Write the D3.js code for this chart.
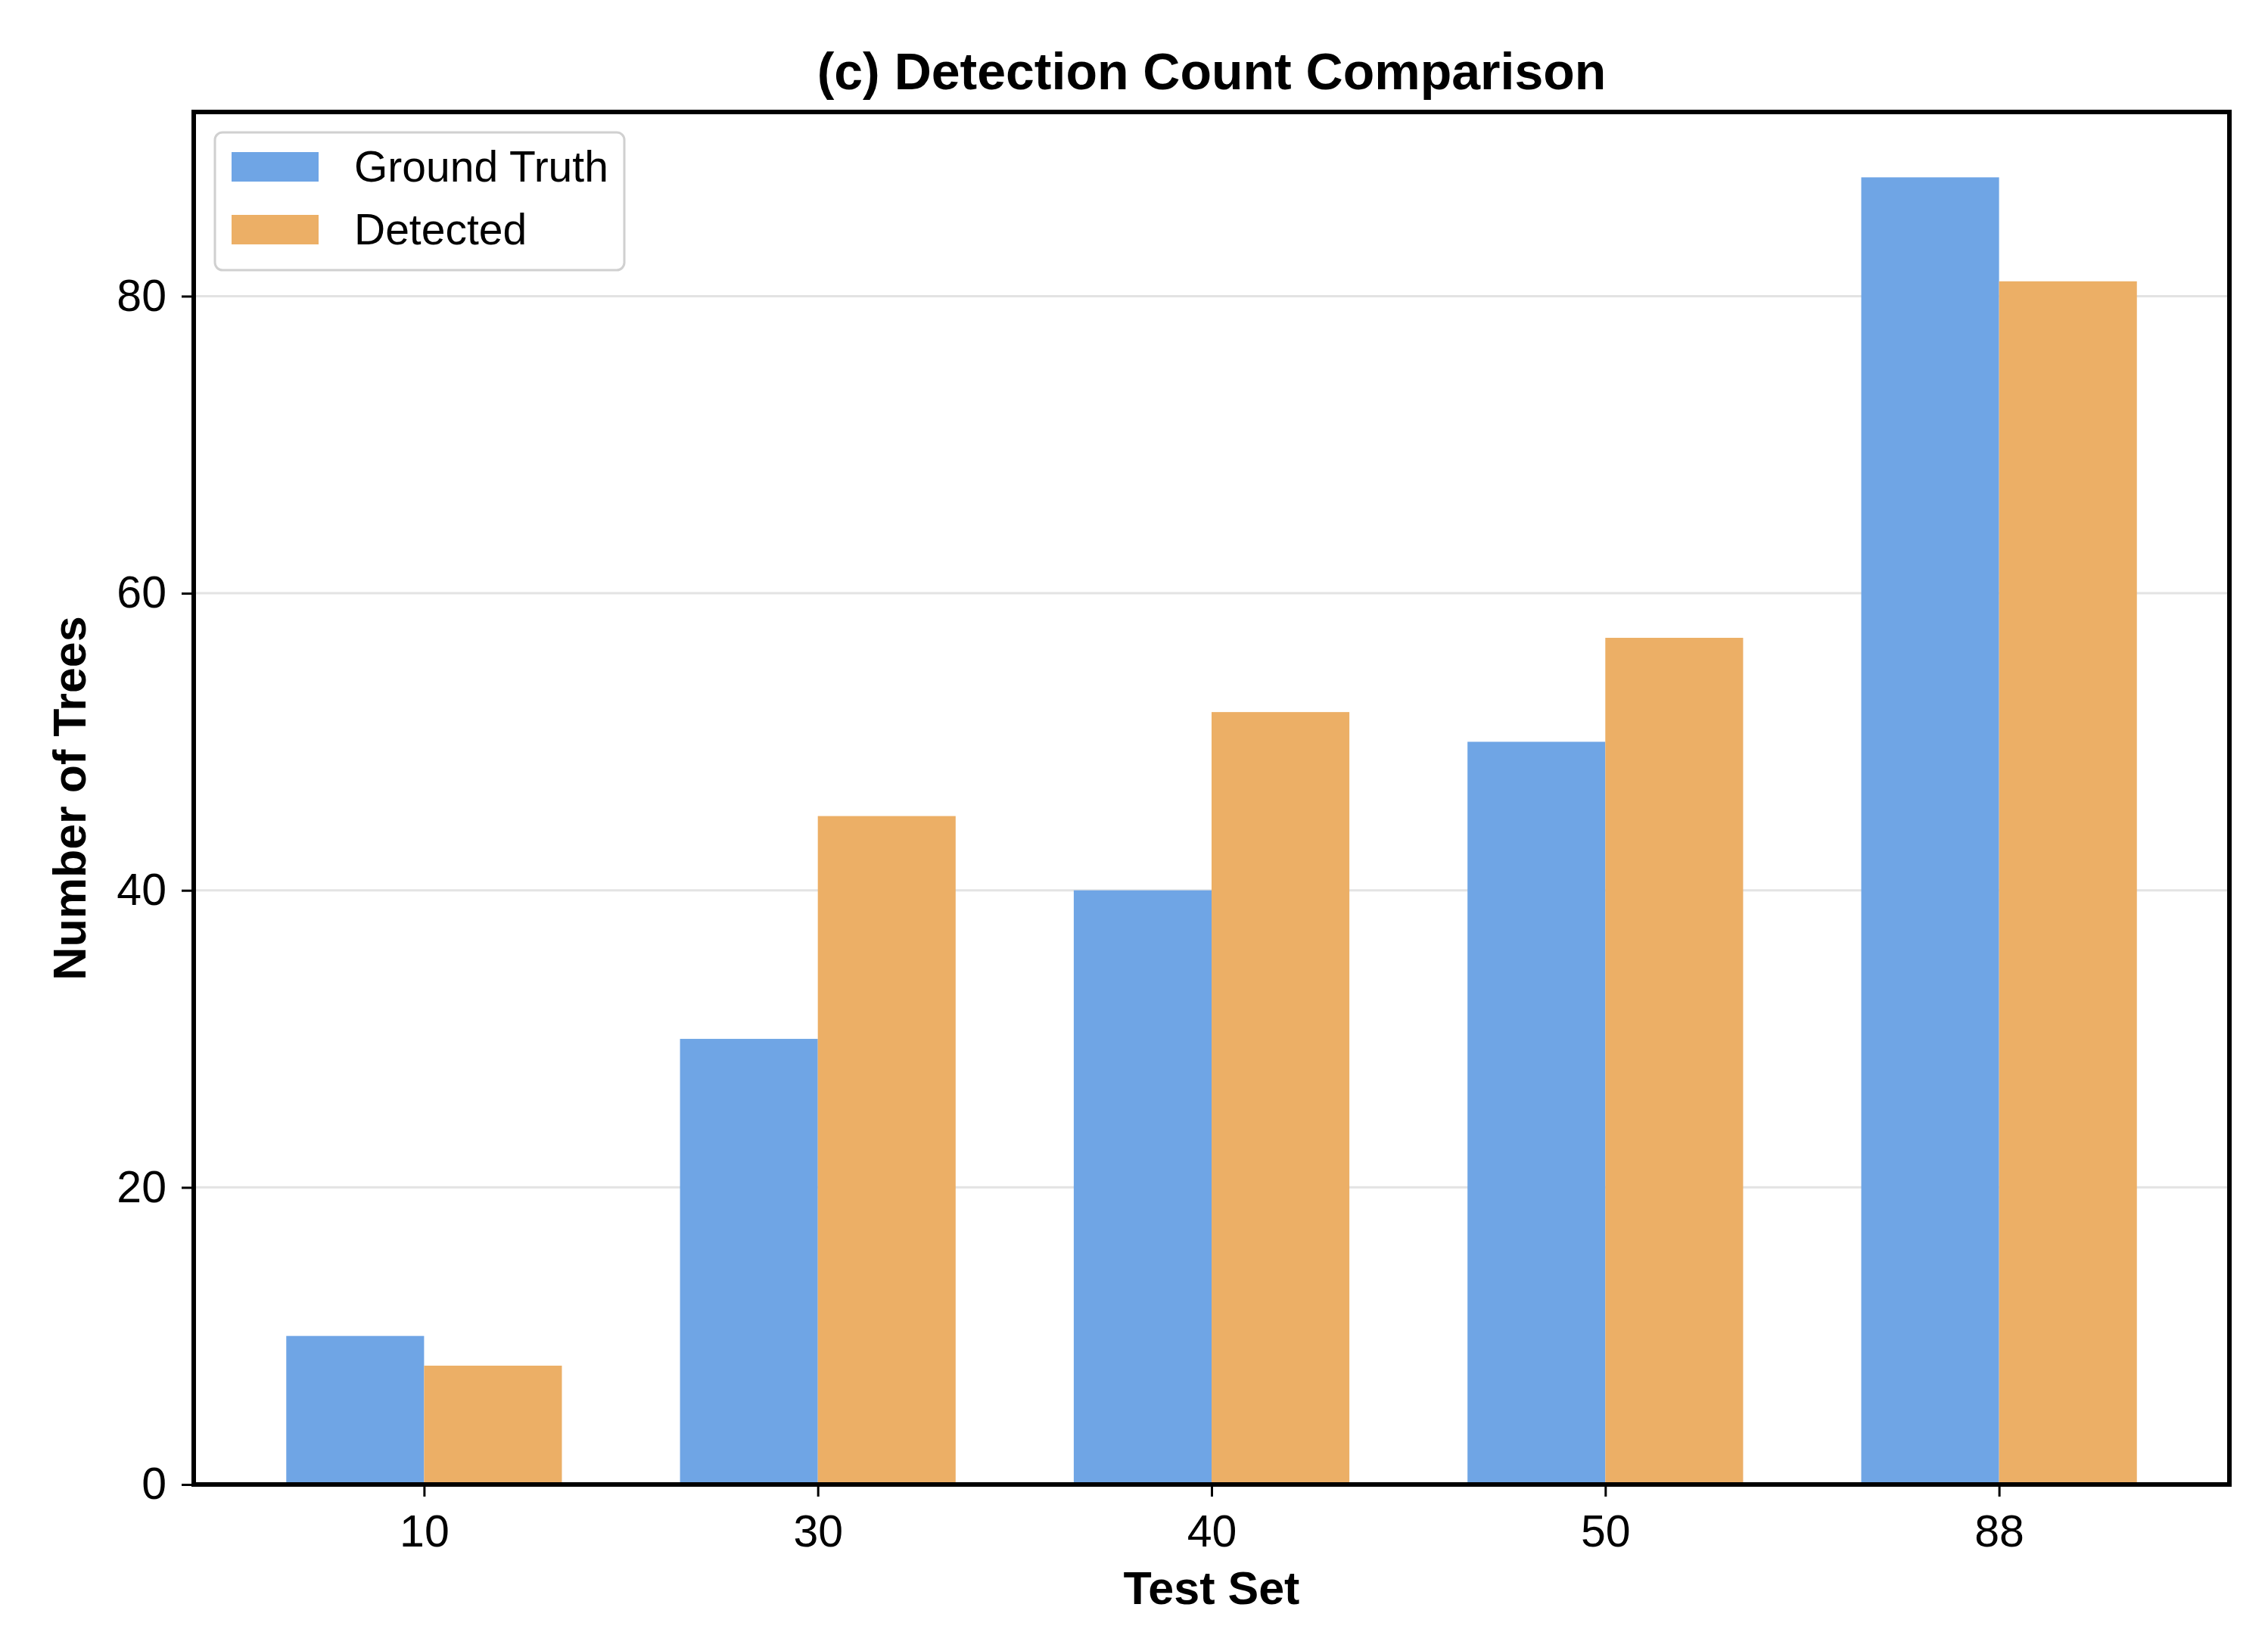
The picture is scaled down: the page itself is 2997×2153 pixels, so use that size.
<!DOCTYPE html>
<html>
<head>
<meta charset="utf-8">
<script src="https://cdn.jsdelivr.net/npm/d3@7"></script>
<style>
  body { margin: 0; background: #fff; }
  text { font-family: "Liberation Sans", Arial, sans-serif; }
</style>
</head>
<body>
<script>
// data
const testSets = ["10", "30", "40", "50", "88"];
const groundTruth = [10, 30, 40, 50, 88];
const detected = [8, 45, 52, 57, 81];
const seriesNames = ["Ground Truth", "Detected"];
const seriesColors = ["#6fa5e5", "#ecaf66"];
const yTicks = [0, 20, 40, 60, 80];

const width = 2997, height = 2153;
const margin = { top: 148, right: 51, bottom: 191, left: 256 };
const innerW = width - margin.left - margin.right;
const innerH = height - margin.top - margin.bottom;

const svg = d3.select("body").append("svg")
    .attr("width", width)
    .attr("height", height);

const g = svg.append("g")
    .attr("transform", `translate(${margin.left},${margin.top})`);

// x: index scale with matplotlib-style margins (bars span -0.35..4.35, 5% padding)
const barW = 0.35;
const span = (testSets.length - 1) + 2 * barW;
const pad = span * 0.05;
const x = d3.scaleLinear()
    .domain([-barW - pad, testSets.length - 1 + barW + pad])
    .range([0, innerW]);

const yMax = d3.max(groundTruth.concat(detected)) * 1.05;
const y = d3.scaleLinear().domain([0, yMax]).range([innerH, 0]);

// grid
g.append("g")
    .selectAll("line")
    .data(yTicks.filter(d => d > 0))
    .enter().append("line")
    .attr("x1", 0).attr("x2", innerW)
    .attr("y1", d => y(d)).attr("y2", d => y(d))
    .attr("stroke", "#e3e3e3")
    .attr("stroke-width", 3);

// bars
const series = [groundTruth, detected];
series.forEach((vals, s) => {
    g.append("g")
        .selectAll("rect")
        .data(vals)
        .enter().append("rect")
        .attr("x", (d, i) => x(i + (s === 0 ? -barW : 0)))
        .attr("width", x(barW) - x(0))
        .attr("y", d => y(d))
        .attr("height", d => y(0) - y(d))
        .attr("fill", seriesColors[s]);
});

// axes
const xAxis = d3.axisBottom(x)
    .tickValues(d3.range(testSets.length))
    .tickFormat(i => testSets[i])
    .tickSize(16)
    .tickPadding(22);
const yAxis = d3.axisLeft(y)
    .tickValues(yTicks)
    .tickSize(16)
    .tickPadding(20);

const gx = g.append("g")
    .attr("transform", `translate(0,${innerH})`)
    .call(xAxis);
const gy = g.append("g").call(yAxis);

[gx, gy].forEach(a => {
    a.select(".domain").remove();
    a.selectAll(".tick line").attr("stroke", "#000").attr("stroke-width", 3);
    a.selectAll(".tick text")
        .attr("fill", "#000")
        .style("font-size", "59px");
});
gx.selectAll(".tick text").attr("dy", "0.75em");

// frame
g.append("rect")
    .attr("x", 0).attr("y", 0)
    .attr("width", innerW).attr("height", innerH)
    .attr("fill", "none")
    .attr("stroke", "#000")
    .attr("stroke-width", 6);

// title and axis labels
svg.append("text")
    .attr("x", margin.left + innerW / 2)
    .attr("y", 118)
    .attr("text-anchor", "middle")
    .style("font-size", "68px")
    .style("font-weight", "bold")
    .text("(c) Detection Count Comparison");

svg.append("text")
    .attr("x", margin.left + innerW / 2)
    .attr("y", 2120)
    .attr("text-anchor", "middle")
    .style("font-size", "61px")
    .style("font-weight", "bold")
    .text("Test Set");

svg.append("text")
    .attr("transform", `translate(113,${margin.top + innerH / 2}) rotate(-90)`)
    .attr("text-anchor", "middle")
    .style("font-size", "61px")
    .style("font-weight", "bold")
    .text("Number of Trees");

// legend
const legend = svg.append("g").attr("transform", "translate(284,175)");
legend.append("rect")
    .attr("width", 541).attr("height", 182)
    .attr("rx", 10)
    .attr("fill", "#fff")
    .attr("fill-opacity", 0.85)
    .attr("stroke", "#d0d0d0")
    .attr("stroke-width", 3);

seriesNames.forEach((name, i) => {
    const row = legend.append("g").attr("transform", `translate(22,${26 + i * 83})`);
    row.append("rect")
        .attr("width", 115).attr("height", 39)
        .attr("fill", seriesColors[i]);
    row.append("text")
        .attr("x", 162)
        .attr("y", 39)
        .style("font-size", "57px")
        .text(name);
});
</script>
</body>
</html>
